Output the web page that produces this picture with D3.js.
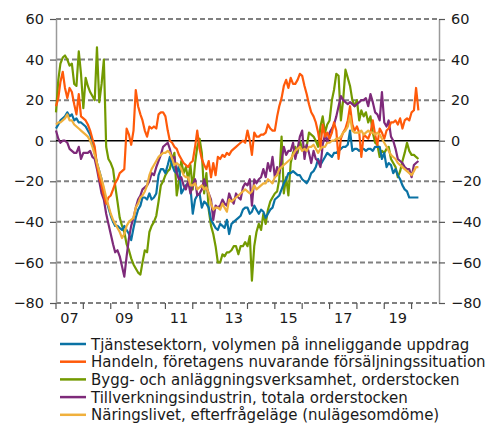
<!DOCTYPE html>
<html>
<head>
<meta charset="utf-8">
<script src="https://cdn.jsdelivr.net/npm/d3@7"></script>
<style>
  body { margin: 0; background: #fff; }
  svg text { font-family: "DejaVu Sans", Verdana, sans-serif; fill: #1a1a1a; }
</style>
</head>
<body>
<svg id="chart" width="500" height="426"></svg>
<script>
// monthly values, first month Jan 2007
const startMonth = new Date(2007, 0, 1);

const tjanstesektorn = [
  6, 8, 10, 11, 12, 14, 12, 13, 10, 11, 9, 9,
  8, 7, 5, 3, -1, -6, -11, -15, -19, -25, -29, -33,
  -37, -40, -42, -42, -43, -44, -42, -44, -46, -49, -43, -38,
  -34, -32, -28, -28, -29, -26, -29, -28, -26, -17, -14, -14,
  -16, -12, -8, -12, -15, -16, -12, -26, -24, -22, -21, -23,
  -36, -29, -27, -26, -33, -30, -31, -33, -39, -41, -43, -44,
  -41, -42, -43, -39, -46, -41, -40, -39, -38, -37, -34, -33,
  -33, -36, -35, -32, -34, -36, -34, -35, -38, -36, -34, -33,
  -29, -28, -27, -24, -21, -19, -16, -16, -15, -16, -17, -17,
  -19, -20, -21, -19, -16, -15, -13, -9, -12, -10, -8, -6,
  -7, -8, -6, -6, -5, -4, -3, -3, -2, 5, -5, -4,
  -4, -5, -4, -4, -5, -4, -4, -5, -3, -3, -3, -9,
  -6, -13, -11, -12, -16, -14, -17, -19, -22, -24, -25, -28,
  -28, -28, -28, -28
];

const handeln = [
  17, 21, 29, 34, 26, 21, 26, 24, 18, 13, 23, 12,
  11, 10, 8, 5, 1, -3, -12, -18, -22, -27, -31, -28,
  -27, -24, -21, -19, -16, -15, -14, 6, 3, -2, 5, 25,
  17, 13, 10, 5, 2, 7, 6, 7, 6, 13, 14, 14,
  12, 5, 0, -1, -3, -4, -7, -9, -11, -12, -13, -11,
  -10, -3, 5, -4, -9, -12, -14, -10, -18, -11, -17, -8,
  -9, -7, -8, -6, -7, -5, -4, -3, -2, -1, 0, -1,
  5, 0, -7, 4, 2, 2, 3, 3, 4, 8, 6, 5,
  5, 12, 17, 21, 27, 30, 26, 31, 28, 28, 30, 33,
  32, 27, 23, 18, 14, 12, 9, 4, -3, 8, 2, 4,
  1, 4, 9, 5, -9, 1, 4, 6, 10, 17, 8, 5,
  7, 4, -8, 3, 2, 1, 4, 10, 3, -2, 6, 4,
  1, 5, 6, 9, 9, 10, 8, 11, 6, 10, 11, 10,
  14, 15, 26, 15
];

const bygg = [
  14, 30, 38, 41, 42, 40, 37, 38, 28, 27, 44, 33,
  16, 31, 27, 24, 22, 20, 46, 19, 28, 40, -3, -9,
  -11, -14, -22, -30, -38, -42, -45, -51, -54, -58, -61, -63,
  -65, -66, -60, -54, -55, -45, -42, -40, -37, -30, -22, -20,
  -17, -15, -14, -9, -6, -27, -20, -10, -16, -13, -19, -12,
  -24, -11, -3, 1, -6, -26, -16, -34, -42, -46, -52, -60,
  -60, -56, -57, -55, -55, -54, -52, -52, -56, -52, -52, -50,
  -52, -47, -69, -52, -45, -41, -44, -36, -41, -34, -30, -28,
  -26, -25, -19, 2, -26, -18, -27, -11, -6, -3, -6, 0,
  -4, -3, -3, 4, 3, 2, 0, -3, 7, 12, 4, 8,
  10, 20, 25, 33, 32, 10, 20, 35, 31, 27, 20, 17,
  20, 10, 15, 12, 14, 9, 12, 4, -1, -2, -8, -5,
  -6, -4, -3, -9, -11, -13, -18, -15, -10, -6, -1, -5,
  -7, -7, -8, -9
];

const tillverkning = [
  5, 1, -1, 0, 0, -1, -4, -5, -6, -6, -3, -9,
  -6, -6, -6, -5, -8, -9, -14, -20, -26, -29, -36, -41,
  -46, -51, -55, -54, -57, -62, -67, -57, -48, -42, -38, -33,
  -29, -27, -24, -23, -22, -20, -16, -17, -13, -10, -7, -3,
  -2, -1, -4, -9, -8, -16, -19, -18, -22, -24, -20, -26,
  -22, -19, -27, -26, -24, -19, -23, -26, -29, -39, -32, -33,
  -32, -29, -31, -32, -26, -29, -31, -26, -28, -29, -23, -21,
  -22, -19, -32, -19, -21, -19, -18, -14, -18, -11, -15, -8,
  -18, -13, -16, -10, -3, -7, -5, -5, -1, -9, -4, 2,
  5, -9, -2, -6, -11, -5, -9, -10, -13, -2, 3, -1,
  4, 6, 8, 12, 17, 22, 20, 19, 18, 19, 18, 17,
  18, 19, 20, 20, 21, 17, 23, 19, 14, 13, 10, 24,
  9, 7, 10, 2, 0, -4, -9, -10, -11, -13, -14, -14,
  -18, -12, -11, -10
];

const naringslivet = [
  8, 9, 9, 10, 11, 13, 10, 10, 8, 7, 6, 5,
  4, 3, 2, 0, -3, -7, -11, -15, -19, -23, -28, -32,
  -36, -39, -41, -43, -45, -48, -46, -42, -40, -39, -38, -33,
  -31, -28, -27, -25, -22, -17, -14, -12, -10, -8, -7, -6,
  -6, -5, -6, -9, -12, -11, -12, -14, -17, -18, -18, -22,
  -22, -21, -24, -23, -22, -24, -23, -26, -31, -34, -33, -33,
  -34, -31, -33, -35, -29, -30, -29, -28, -27, -26, -25, -24,
  -25, -26, -25, -22, -24, -23, -22, -21, -21, -19, -20, -21,
  -18, -17, -14, -13, -12, -11, -10, -9, -7, -5, -4, -3,
  -5, -4, -5, -3, -3, -2, -4, -6, -4, -3, -3, -1,
  -1, 0, 0, 1, 1, 2, 4, 5, 7, 12, 5, 4,
  4, 4, 5, 3, 4, 5, 4, 4, 3, 4, 3, 1,
  -1, -3, -5, -7, -8, -9, -11, -12, -13, -14, -15, -16,
  -17, -15, -13, -13
];

const seriesNames = [
  'Tjänstesektorn, volymen på inneliggande uppdrag',
  'Handeln, företagens nuvarande försäljningssituation',
  'Bygg- och anläggningsverksamhet, orderstocken',
  'Tillverkningsindustrin, totala orderstocken',
  'Näringslivet, efterfrågeläge (nulägesomdöme)'
];
const seriesValues = [tjanstesektorn, handeln, bygg, tillverkning, naringslivet];
const seriesColors = ['#0a72a4', '#ff5a0a', '#739a00', '#7e2a7a', '#f0b03c'];
const drawOrder = [2, 0, 3, 1, 4];

const yTicks = [60, 40, 20, 0, -20, -40, -60, -80];
const xLabels = ['07', '09', '11', '13', '15', '17', '19'];

const svg = d3.select('#chart');
const plotLeft = 56, plotRight = 439, plotTop = 19, plotBottom = 303;

const x = d3.scaleTime()
  .domain([new Date(2007, 0, 1), new Date(2021, 0, 1)])
  .range([plotLeft, plotRight]);
const y = d3.scaleLinear().domain([-80, 60]).range([plotBottom, plotTop]);

// grid
svg.append('g').selectAll('line')
  .data(yTicks.filter(d => d !== 0))
  .enter().append('line')
  .attr('x1', plotLeft).attr('x2', plotRight)
  .attr('y1', d => y(d)).attr('y2', d => y(d))
  .attr('stroke', '#808080').attr('stroke-width', 2)
  .attr('stroke-dasharray', '5,3');

// axes left / right
function styleAxis(g) {
  g.select('.domain').attr('stroke', '#9a9a9a').attr('stroke-width', 1.5);
  g.selectAll('.tick line').attr('stroke', '#555').attr('stroke-width', 1.2);
  g.selectAll('.tick text')
    .attr('font-size', 14.5)
    .attr('font-family', '"DejaVu Sans", Verdana, sans-serif')
    .attr('fill', '#1a1a1a');
}

svg.append('g')
  .attr('transform', 'translate(' + plotLeft + ',0)')
  .call(d3.axisLeft(y).tickValues(yTicks).tickSize(6).tickPadding(6).tickSizeOuter(0))
  .call(styleAxis);

svg.append('g')
  .attr('transform', 'translate(' + plotRight + ',0)')
  .call(d3.axisRight(y).tickValues(yTicks).tickSize(6).tickPadding(6).tickSizeOuter(0))
  .call(styleAxis);

// x axis ticks at year starts, labels mid year
const xAxis = svg.append('g').attr('transform', 'translate(0,' + plotBottom + ')');
xAxis.selectAll('line')
  .data(d3.timeYear.range(new Date(2007, 0, 1), new Date(2021, 0, 1)))
  .enter().append('line')
  .attr('x1', d => x(d)).attr('x2', d => x(d))
  .attr('y1', 0).attr('y2', 6)
  .attr('stroke', '#555').attr('stroke-width', 1.2);
xAxis.selectAll('text')
  .data(xLabels)
  .enter().append('text')
  .attr('x', d => x(new Date(2000 + +d, 6, 1)))
  .attr('y', 20)
  .attr('text-anchor', 'middle')
  .attr('font-size', 14.5)
  .text(d => d);

// zero line
svg.append('line')
  .attr('x1', plotLeft).attr('x2', plotRight)
  .attr('y1', y(0)).attr('y2', y(0))
  .attr('stroke', '#000').attr('stroke-width', 1.5);

// series
const line = d3.line()
  .x((d, i) => x(d3.timeMonth.offset(startMonth, i)))
  .y(d => y(d));

svg.append('g').selectAll('path')
  .data(drawOrder)
  .enter().append('path')
  .attr('d', k => line(seriesValues[k]))
  .attr('fill', 'none')
  .attr('stroke', k => seriesColors[k])
  .attr('stroke-width', 2.2)
  .attr('stroke-linejoin', 'round');

// legend
const legend = svg.append('g').selectAll('g')
  .data(seriesNames)
  .enter().append('g')
  .attr('transform', (d, i) => 'translate(60,' + (344 + i * 17.7) + ')');
legend.append('line')
  .attr('x1', 0).attr('x2', 26)
  .attr('stroke', (d, i) => seriesColors[i])
  .attr('stroke-width', 2.5);
legend.append('text')
  .attr('x', 31).attr('y', 5.5)
  .attr('font-size', 15)
  .text(d => d);
</script>
</body>
</html>
